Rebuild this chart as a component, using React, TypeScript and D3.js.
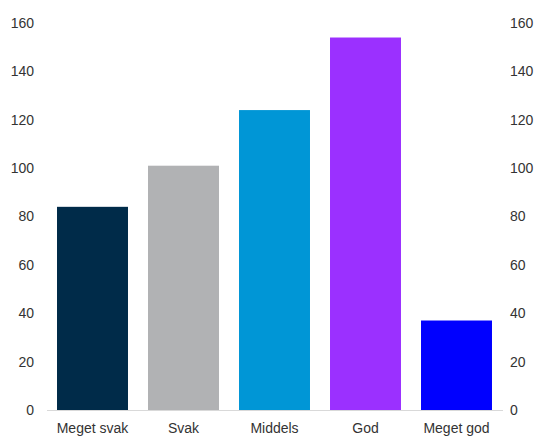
import React from "react";
import * as d3 from "d3";

const categories = ["Meget svak", "Svak", "Middels", "God", "Meget god"];
const values = [84, 101, 124, 154, 37];
const colors = ["#002b49", "#b1b2b4", "#0096d6", "#9b30ff", "#0000ff"];
const ticks = [0, 20, 40, 60, 80, 100, 120, 140, 160];

const W = 542;
const H = 436;

export default function App() {
  const x = d3.scaleBand<string>().domain(categories).range([47, 502]).paddingInner(0.22).paddingOuter(0.11);
  const y = d3.scaleLinear().domain([0, 160]).range([410, 23]);
  const font = "'Liberation Sans', Arial, sans-serif";
  return (
    <svg width={W} height={H} style={{ position: "absolute", left: 0, top: 0, background: "#fff" }}>
      {categories.map((c, i) => (
        <rect key={c} x={x(c)} y={y(values[i])} width={x.bandwidth()} height={y(0) - y(values[i])} fill={colors[i]} />
      ))}
      <line x1={47} x2={503} y1={y(0) + 0.5} y2={y(0) + 0.5} stroke="#d9d9d9" strokeWidth={1} />
      {ticks.map((t) => (
        <g key={t} fontFamily={font} fontSize={14} fill="#333">
          <text x={34} y={y(t)} dy="0.35em" textAnchor="end">{t}</text>
          <text x={510} y={y(t)} dy="0.35em" textAnchor="start">{t}</text>
        </g>
      ))}
      {categories.map((c) => (
        <text key={c} x={(x(c) ?? 0) + x.bandwidth() / 2} y={428} dy="0.35em" textAnchor="middle" fontFamily={font} fontSize={14} fill="#333">
          {c}
        </text>
      ))}
    </svg>
  );
}
